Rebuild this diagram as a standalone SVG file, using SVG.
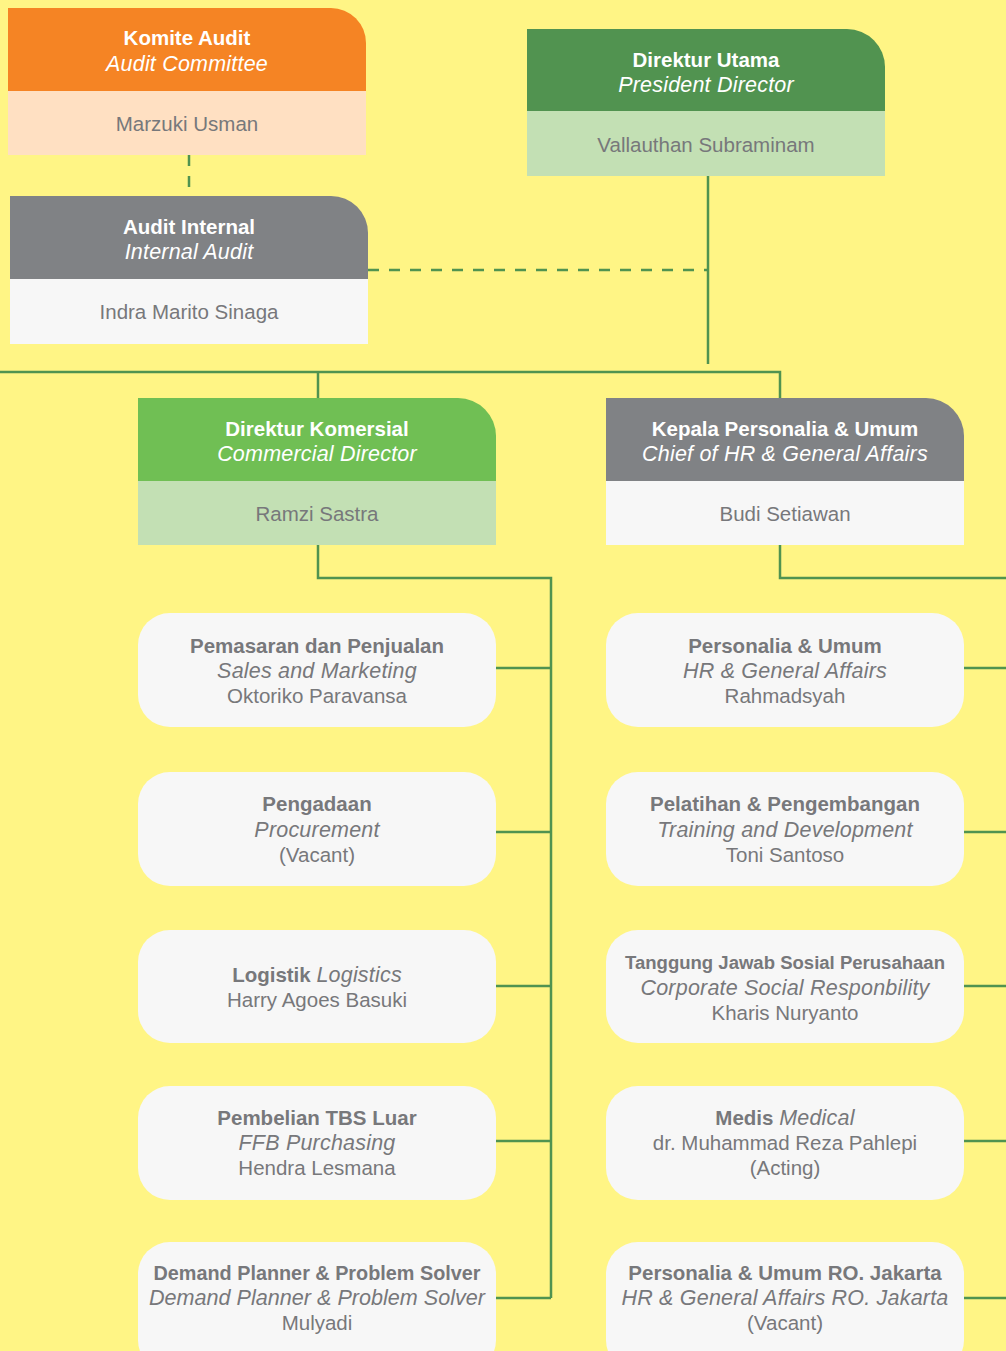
<svg xmlns="http://www.w3.org/2000/svg" width="1006" height="1351" viewBox="0 0 1006 1351">
<style>
text{font-family:"Liberation Sans",Arial,sans-serif;font-size:20.5px;text-anchor:middle;fill:#77787b}
.b{font-weight:bold}
.i{font-style:italic;font-size:21.5px;letter-spacing:0.2px}
.w{fill:#ffffff}
.card{fill:#f7f7f7}
.ln{fill:none;stroke:#509350;stroke-width:2.5}
.dash{fill:none;stroke:#509350;stroke-width:2.5;stroke-dasharray:11 10}
</style>
<rect x="0" y="0" width="1006" height="1351" fill="#fff585"/>
<g id="connectors">
<path class="dash" d="M189,155 V196"/>
<path class="dash" d="M368,270 H708"/>
<path class="ln" d="M708,176 V364"/>
<path class="ln" d="M0,372 H780 V398"/>
<path class="ln" d="M318,372 V398"/>
<path class="ln" d="M318,545 V578 H551 V1298"/>
<path class="ln" d="M496,668 H551 M496,832 H551 M496,986 H551 M496,1141 H551 M496,1298 H551"/>
<path class="ln" d="M780,545 V578 H1006"/>
<path class="ln" d="M964,668 H1006 M964,832 H1006 M964,986 H1006 M964,1141 H1006 M964,1298 H1006"/>
</g>
<g id="komite-audit">
<path d="M8,8 H331 A35,35 0 0 1 366,43 V91 H8 Z" fill="#f58424"/>
<rect x="8" y="91" width="358" height="64" fill="#ffe0c2"/>
<text x="187" y="45" class="b w">Komite Audit</text>
<text x="187" y="71" class="i w">Audit Committee</text>
<text x="187" y="131">Marzuki Usman</text>
</g>
<g id="audit-internal">
<path d="M10,196 H331 A37,37 0 0 1 368,233 V279 H10 Z" fill="#808285"/>
<rect x="10" y="279" width="358" height="65" fill="#f7f7f7"/>
<text x="189" y="234" class="b w">Audit Internal</text>
<text x="189" y="259" class="i w">Internal Audit</text>
<text x="189" y="319">Indra Marito Sinaga</text>
</g>
<g id="direktur-utama">
<path d="M527,29 H847 A38,38 0 0 1 885,67 V111 H527 Z" fill="#519350"/>
<rect x="527" y="111" width="358" height="65" fill="#c3e0b4"/>
<text x="706" y="67" class="b w">Direktur Utama</text>
<text x="706" y="92" class="i w">President Director</text>
<text x="706" y="152">Vallauthan Subraminam</text>
</g>
<g id="direktur-komersial">
<path d="M138,398 H458 A38,38 0 0 1 496,436 V481 H138 Z" fill="#70bf54"/>
<rect x="138" y="481" width="358" height="64" fill="#c3e0b4"/>
<text x="317" y="436" class="b w">Direktur Komersial</text>
<text x="317" y="461" class="i w">Commercial Director</text>
<text x="317" y="521">Ramzi Sastra</text>
</g>
<g id="kepala-personalia">
<path d="M606,398 H926 A38,38 0 0 1 964,436 V481 H606 Z" fill="#808285"/>
<rect x="606" y="481" width="358" height="64" fill="#f7f7f7"/>
<text x="785" y="436" class="b w">Kepala Personalia &amp; Umum</text>
<text x="785" y="461" class="i w">Chief of HR &amp; General Affairs</text>
<text x="785" y="521">Budi Setiawan</text>
</g>
<g id="pemasaran">
<rect class="card" x="138" y="613" width="358" height="114" rx="32"/>
<text x="317" y="653" class="b">Pemasaran dan Penjualan</text>
<text x="317" y="678" class="i">Sales and Marketing</text>
<text x="317" y="703">Oktoriko Paravansa</text>
</g>
<g id="pengadaan">
<rect class="card" x="138" y="772" width="358" height="114" rx="32"/>
<text x="317" y="811" class="b">Pengadaan</text>
<text x="317" y="837" class="i">Procurement</text>
<text x="317" y="862">(Vacant)</text>
</g>
<g id="logistik">
<rect class="card" x="138" y="930" width="358" height="113" rx="32"/>
<text x="317" y="982"><tspan class="b">Logistik</tspan> <tspan class="i">Logistics</tspan></text>
<text x="317" y="1007">Harry Agoes Basuki</text>
</g>
<g id="pembelian-tbs">
<rect class="card" x="138" y="1086" width="358" height="114" rx="32"/>
<text x="317" y="1125" class="b">Pembelian TBS Luar</text>
<text x="317" y="1150" class="i">FFB Purchasing</text>
<text x="317" y="1175">Hendra Lesmana</text>
</g>
<g id="demand-planner">
<rect class="card" x="138" y="1242" width="358" height="130" rx="32"/>
<text x="317" y="1280" class="b" textLength="327" lengthAdjust="spacingAndGlyphs">Demand Planner &amp; Problem Solver</text>
<text x="317" y="1305" class="i" style="letter-spacing:0" textLength="336" lengthAdjust="spacingAndGlyphs">Demand Planner &amp; Problem Solver</text>
<text x="317" y="1330">Mulyadi</text>
</g>
<g id="personalia-umum">
<rect class="card" x="606" y="613" width="358" height="114" rx="32"/>
<text x="785" y="653" class="b">Personalia &amp; Umum</text>
<text x="785" y="678" class="i">HR &amp; General Affairs</text>
<text x="785" y="703">Rahmadsyah</text>
</g>
<g id="pelatihan">
<rect class="card" x="606" y="772" width="358" height="114" rx="32"/>
<text x="785" y="811" class="b">Pelatihan &amp; Pengembangan</text>
<text x="785" y="837" class="i">Training and Development</text>
<text x="785" y="862">Toni Santoso</text>
</g>
<g id="csr">
<rect class="card" x="606" y="930" width="358" height="113" rx="32"/>
<text x="785" y="969" class="b" style="font-size:17.5px" textLength="320" lengthAdjust="spacingAndGlyphs">Tanggung Jawab Sosial Perusahaan</text>
<text x="785" y="995" class="i">Corporate Social Responbility</text>
<text x="785" y="1020">Kharis Nuryanto</text>
</g>
<g id="medis">
<rect class="card" x="606" y="1086" width="358" height="114" rx="32"/>
<text x="785" y="1125"><tspan class="b">Medis</tspan> <tspan class="i">Medical</tspan></text>
<text x="785" y="1150">dr. Muhammad Reza Pahlepi</text>
<text x="785" y="1175">(Acting)</text>
</g>
<g id="personalia-jakarta">
<rect class="card" x="606" y="1242" width="358" height="130" rx="32"/>
<text x="785" y="1280" class="b">Personalia &amp; Umum RO. Jakarta</text>
<text x="785" y="1305" class="i">HR &amp; General Affairs RO. Jakarta</text>
<text x="785" y="1330">(Vacant)</text>
</g>
</svg>
